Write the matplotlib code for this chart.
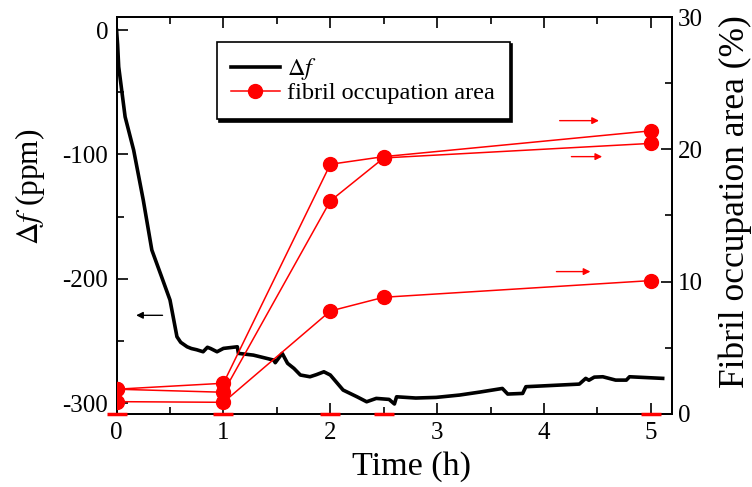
import numpy as np
import matplotlib
matplotlib.use('Agg')
import matplotlib.pyplot as plt
from matplotlib.lines import Line2D
from matplotlib.ticker import MultipleLocator

# ---- data ----
t_df = [0.0, 0.01, 0.02, 0.08, 0.16, 0.25, 0.33, 0.42, 0.50, 0.565, 0.60, 0.66,
        0.70, 0.75, 0.81, 0.85, 0.88, 0.94, 1.0, 1.13, 1.14, 1.28, 1.47, 1.485,
        1.55, 1.60, 1.66, 1.72, 1.81, 1.87, 1.94, 2.0, 2.12, 2.25, 2.34, 2.43,
        2.55, 2.60, 2.62, 2.80, 2.99, 3.21, 3.40, 3.61, 3.66, 3.80, 3.83, 4.0,
        4.33, 4.39, 4.42, 4.47, 4.55, 4.67, 4.77, 4.80, 5.11]
df = [0, -12, -29.5, -69.7, -96.5, -136.7, -176.8, -198, -217, -246.5, -251, -254.6,
      -256, -257, -258.6, -255, -256, -258.6, -255.9, -254.6, -259.9, -261.3,
      -265.3, -267.4, -259.9, -267.9, -272, -277.3, -278.7, -277, -274.7, -277.3,
      -289.4, -294.8, -298.8, -296.1, -296.9, -300.6, -294.8, -295.8, -295.3,
      -293.4, -291, -288.1, -292.6, -292.1, -286.7, -286, -284.6, -280.0, -281.5,
      -279, -278.7, -281.4, -281.4, -278.7, -280.0]

t_area = [0, 1, 2, 2.5, 5]
area_a = [1.87, 2.32, 18.87, 19.45, 21.4]
area_b = [1.87, 1.64, 16.1, 19.35, 20.45]
area_c = [0.93, 0.88, 7.78, 8.82, 10.08]
area_zero = [0, 0, 0, 0, 0]

RED = '#ff0000'

plt.rcParams['font.family'] = 'Liberation Serif'
plt.rcParams['mathtext.fontset'] = 'stix'
plt.rcParams['axes.unicode_minus'] = False

fig = plt.figure(figsize=(7.52, 4.87), dpi=100)
ax = fig.add_axes([0.155, 0.150, 0.739, 0.815])
ax2 = ax.twinx()

# red series (right axis)
for vals in (area_a, area_b, area_c):
    ax2.plot(t_area, vals, '-o', color=RED, lw=1.1, ms=10, zorder=3)
ax2.plot(t_area, area_zero, '_', color=RED, ms=14, mew=2.5, clip_on=False, zorder=4)

# black frequency shift (left axis)
ax.plot(t_df, df, '-', color='black', lw=2.6, zorder=3)

# arrows
ax.annotate('', xy=(0.157, -229.3), xytext=(0.456, -229.3),
            arrowprops=dict(arrowstyle='-|>', color='black', lw=1.0, mutation_scale=10))
for (x0, x1, y) in [(4.12, 4.54, 22.17), (4.23, 4.57, 19.45), (4.09, 4.46, 10.76)]:
    ax2.annotate('', xy=(x1, y), xytext=(x0, y),
                 arrowprops=dict(arrowstyle='-|>', color=RED, lw=1.0, mutation_scale=10))

ax.set_xlim(0, 5.2)
ax.set_ylim(-308.6, 10.5)
ax2.set_ylim(0, 30)

ax.xaxis.set_major_locator(MultipleLocator(1))
ax.xaxis.set_minor_locator(MultipleLocator(0.5))
ax.yaxis.set_major_locator(MultipleLocator(100))
ax.yaxis.set_minor_locator(MultipleLocator(50))
ax2.yaxis.set_major_locator(MultipleLocator(10))
ax2.yaxis.set_minor_locator(MultipleLocator(5))

ax.tick_params(axis='x', which='both', direction='in', top=True, labelsize=18, pad=6)
ax.tick_params(axis='y', which='both', direction='in', labelsize=18, pad=6)
ax.tick_params(which='major', length=8, width=1.2)
ax.tick_params(which='minor', length=5, width=1.2)
ax2.tick_params(axis='y', which='both', direction='in', labelsize=18, pad=4)
ax2.tick_params(which='major', length=8, width=1.2)
ax2.tick_params(which='minor', length=5, width=1.2)
for a in (ax, ax2):
    for sp in a.spines.values():
        sp.set_linewidth(1.3)

ax.set_xlabel('Time (h)', fontsize=24.5)
ax.xaxis.set_label_coords(0.53, -0.095)
ax.set_ylabel(r'$\Delta \mathit{f}$ (ppm)', fontsize=22.5, va='center')
ax.yaxis.set_label_coords(-0.156, 0.572)
ax2.set_ylabel('Fibril occupation area (%)', fontsize=25.5, va='center')
ax2.yaxis.set_label_coords(1.113, 0.534)

handles = [Line2D([0], [0], color='black', lw=2.6, label=r'$\Delta \mathit{f}$'),
           Line2D([0], [0], color=RED, lw=1.1, marker='o', ms=10,
                  label='fibril occupation area')]
leg = ax2.legend(handles=handles, loc='upper left', bbox_to_anchor=(0.18, 0.938),
                 borderaxespad=0, fontsize=17.5, frameon=True, fancybox=False,
                 edgecolor='black', framealpha=1, handlelength=2.0,
                 handletextpad=0.3, labelspacing=0.0, borderpad=0.6,
                 shadow={'color': 'black', 'alpha': 1})
leg.get_frame().set_linewidth(1.2)

fig.savefig('out.png', dpi=100, facecolor='white')
